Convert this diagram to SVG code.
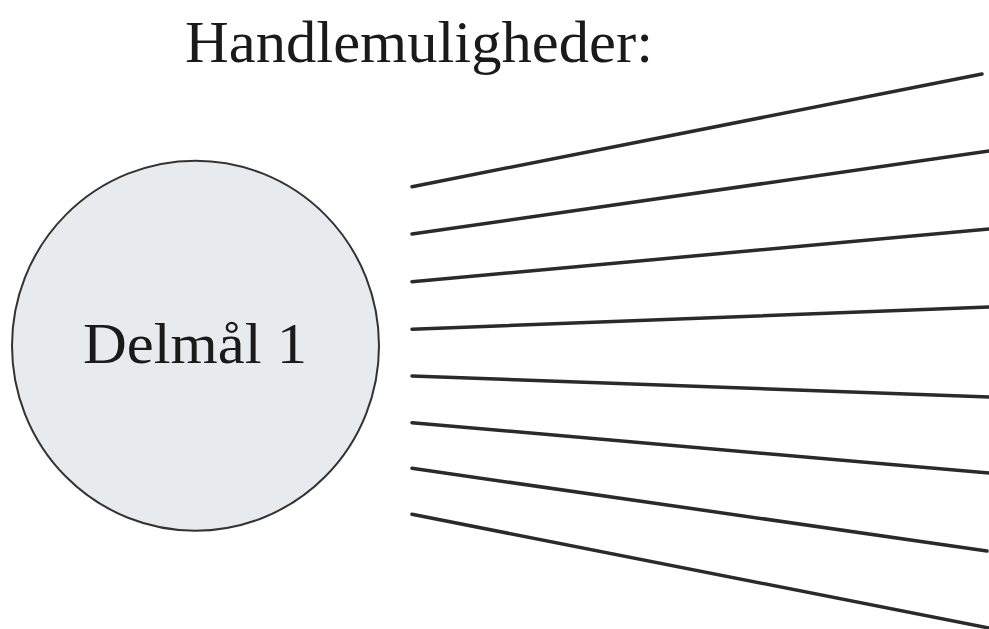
<svg xmlns="http://www.w3.org/2000/svg" width="989" height="629" viewBox="0 0 989 629">
<style>
.t{font-family:"Liberation Serif","Times New Roman",serif;fill:#1a1a1a}
.ln{stroke:#2a2a2a;stroke-width:3.5;stroke-linecap:round;fill:none}
</style>
<rect width="989" height="629" fill="#ffffff"/>
<g id="title">
<text class="t" x="185" y="62" font-size="59" textLength="468" lengthAdjust="spacingAndGlyphs">Handlemuligheder:</text>
</g>
<g id="delmaal1">
<ellipse cx="195.5" cy="345.7" rx="183.5" ry="185" fill="#e7ebee" stroke="#333333" stroke-width="2"/>
<text class="t" x="83" y="362.7" font-size="57" textLength="224" lengthAdjust="spacingAndGlyphs">Delmål 1</text>
</g>
<g id="connectors">
<line class="ln" x1="412" y1="186.7" x2="982" y2="74"/>
<line class="ln" x1="412" y1="234" x2="989" y2="151"/>
<line class="ln" x1="412" y1="281.7" x2="989" y2="229"/>
<line class="ln" x1="412" y1="329.3" x2="989" y2="307"/>
<line class="ln" x1="412" y1="376" x2="989" y2="397"/>
<line class="ln" x1="412" y1="422.7" x2="989" y2="473"/>
<line class="ln" x1="412" y1="468.3" x2="987" y2="551"/>
<line class="ln" x1="412" y1="514.3" x2="989" y2="628"/>
</g>
</svg>
